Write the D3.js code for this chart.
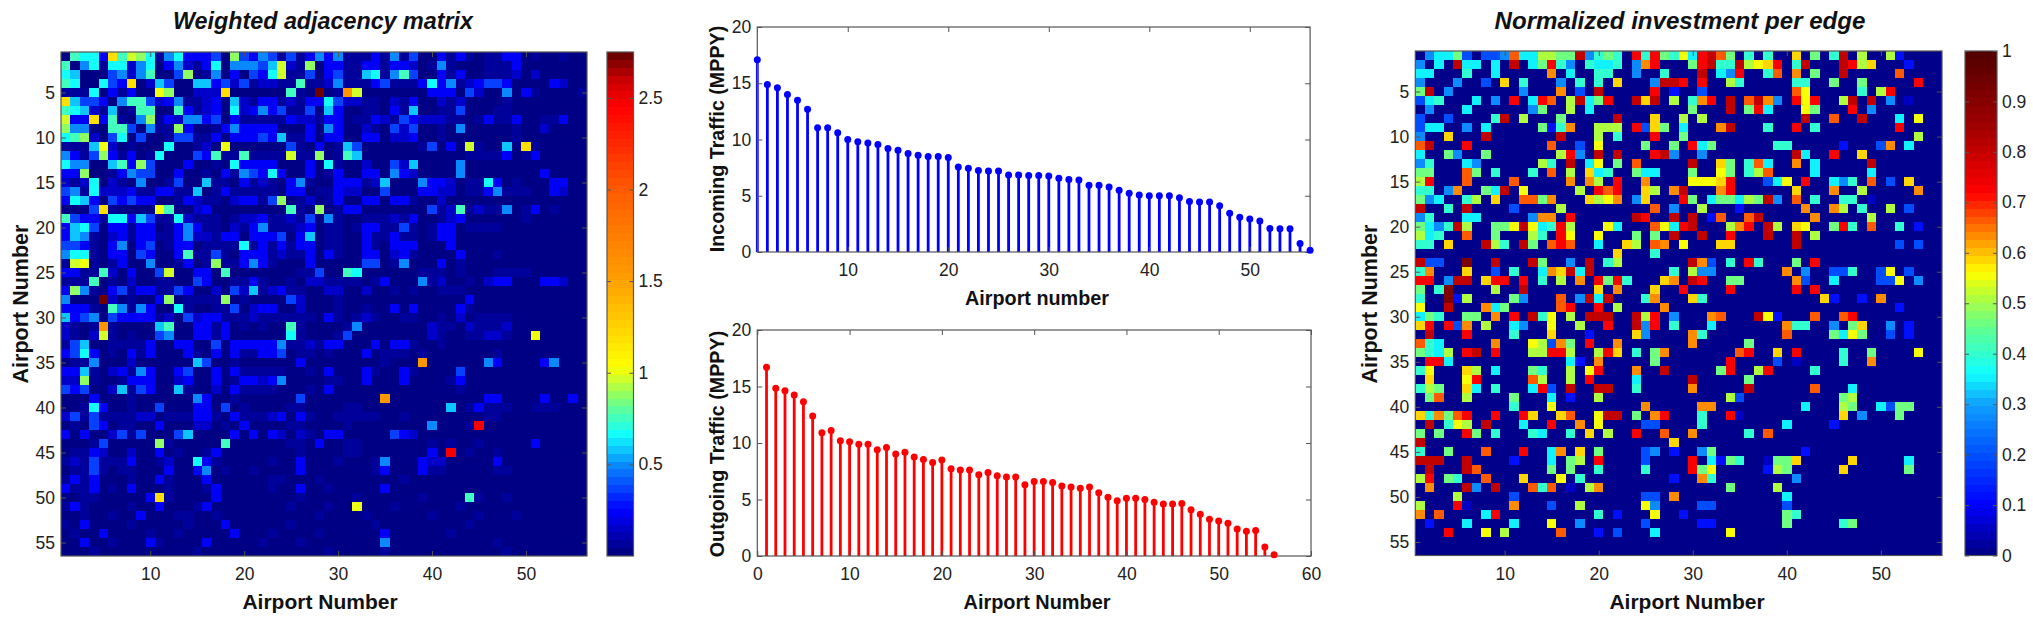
<!DOCTYPE html>
<html>
<head>
<meta charset="utf-8">
<script src="https://cdn.jsdelivr.net/npm/d3@7"></script>
<style>
  html, body { margin: 0; padding: 0; background: #fff; }
  svg { display: block; font-family: "Liberation Sans", Arial, sans-serif; }
  .tick text { fill: #222; }
</style>
</head>
<body>
<svg id="chart" width="2033" height="618"></svg>
<script>
// Adjacency matrix, one string per row, 56 cells. Spaces are only for reading.
const weightLevels = { 0: .03, 1: .06, 2: .13, 3: .25, 4: .36, 5: .48, 6: .56, 7: .66, 8: .75, 9: .86, a: .95, b: 1.03, c: 1.2, d: 1.55, e: 2.45, f: 2.75 };
const weightRows = [
  "08773c8a97 1573334094 3541413535 1113151400 3131011330 100100",
  "8057177257 0352137055 546a219033 1133133201 5100011130 000000",
  "7600045258 0049015030 437a114034 1167158400 3130011120 200000",
  "8700743c02 6400663424 1221181125 1113411137 3512344300 003200",
  "1117031300 b900222c00 0000810f01 da00000003 3304200503 100001",
  "c644305884 2351123062 1331213374 2211021300 2120000100 000000",
  "8762160188 0083123072 3534114063 0011031600 1140001100 000000",
  "a33c381059 1325534031 1111322133 0113214322 2110131130 011300",
  "9550088405 1193001353 3330003053 0021042400 1050000010 020000",
  "7892047040 0144113033 3436113033 0033022300 1000000010 000000",
  "1116b20100 0700120b00 0000410301 6400000014 030a10060c 100000",
  "5314931301 7000438118 1111a11901 8600000000 0001111301 300000",
  "7550068394 0003001073 3330003071 0020042600 0050000000 000000",
  "3390013544 0030010315 4373003013 0033053200 0050000000 030000",
  "2127021050 0140061103 1210351003 3312600053 3201173010 003300",
  "4517222311 3311601311 1110330113 2200400033 2201135111 003200",
  "3763043433 0013211023 3149012013 0033033100 2000000000 000000",
  "0004c10000 b800230000 0000810901 3300000004 1281211501 301000",
  "8433177364 1172111012 2311214051 0011121300 1230000001 000000",
  "3674033133 0135311021 3511123011 0133114101 3301111000 000000",
  "3651023133 1135221330 3334036011 0031131101 3300000000 000000",
  "4431035034 0133011117 1313133011 0031033300 0300000000 000000",
  "5771033043 0038114103 3312113031 0033023100 0030001000 000000",
  "1ab1013005 0013019113 5310003000 0044015000 3010000000 000000",
  "3311820300 4a00330800 0000011400 8700000011 1010001111 000000",
  "1118010200 1100430011 3100102211 1101300051 2001023300 033200",
  "3951034133 1143002042 6123110022 0020010100 1110000000 000000",
  "5000f20100 3901111901 0000420001 0000000000 0003000000 000000",
  "3331085153 0071001140 2330020001 0010030300 0031000000 000000",
  "6345043333 1204233111 2111111031 0121001100 1020111100 000000",
  "2101d10000 6800331301 0100810000 1500000002 1102111200 000000",
  "2102a10100 4500331300 0000710001 4000000002 1001122100 b00000",
  "1460011113 0033004033 3335112133 0003033100 1000000000 000000",
  "3473010313 0003103031 1334011010 0030111010 0000001000 000000",
  "0115000200 0000640010 0000030000 00001000d0 0000053000 035000",
  "3361023153 0034003031 1111001030 0031003100 0040000000 000000",
  "2291001333 0023003013 3235000011 0030003000 0130000000 000000",
  "4340026143 0061002031 1110001030 0000000000 0010000000 000000",
  "0003000100 0000530010 0000040000 0000d00000 0000033000 030030",
  "0017300100 4000330401 0000110000 1100000000 0601311100 111000",
  "2414111122 0111331031 1123031001 1111001000 0000011000 000000",
  "0104301100 3000220103 0000110000 1000000005 0001e00000 000000",
  "3030024140 0046000030 3032021033 0000043200 0000000000 000000",
  "0001400000 9100000800 0000110300 1100000001 0100100000 300000",
  "0113200200 3010013000 0000010000 1100000003 0e01001000 000000",
  "1214111300 1200731000 0010030001 0001500032 2000003000 000000",
  "0114101100 0300350100 1000030000 0001300031 1000001100 000000",
  "1313000100 3100030000 0011000100 0000001000 0000000000 000000",
  "3113010300 0100013000 0010030010 0000300000 0000000000 000000",
  "0011000003 c100003000 0000010000 0100000010 0008100100 000000",
  "1310000100 3000130000 0000100010 0b00010000 0010000000 000000",
  "0010010030 0011001000 0000000100 0010000001 0000100010 000000",
  "1030000100 0001000300 0000100000 0001000000 0001000000 000000",
  "0100300001 0010000030 0010000100 0000300000 0100000000 000000",
  "0030010003 1000030000 0100010000 0000500000 0000001000 000000",
  "0001000000 0000100000 0000000010 0000100000 0000000100 000000"
];

// Investment per edge, sparse: "col+level" per row, everything else is 0.
const investLevels = { a: .05, b: .12, c: .2, d: .28, e: .35, f: .4, g: .46, h: .51, i: .55, j: .59, k: .63, l: .67, m: .72, n: .8, o: .92 };
const investRows = [
  "2d 3e 4e 5g 6c 8c 9c 10d 11l 12e 13e 14h 15h 16g 17g 18n 19d 20f 21g 22f 24m 25f 26m 27g 28f 29i 30e 31m 32n 33l 34g 36f 38f 41j 43g 45f 46n 48h 51h 52b",
  "1d 3e 5n 6e 7e 9e 11n 13e 14g 15m 16f 17d 19f 20e 21e 22f 24d 25k 26m 30g 31m 32n 33f 34f 35n 36h 37i 38j 39m 41f 42n 46n 47m 48h 49j 53b",
  "1e 2e 6f 9e 15k 17e 20f 21f 24d 27f 31n 33e 34d 35m 38f 39l 41k 43g 46n 52l",
  "1d 5d 8c 10j 12f 16d 18f 20f 22j 26d 27n 28n 29m 31m 34h 35f 41f 42f 45g 48g 54m",
  "1g 2n 4d 12d 16k 18c 20n 26m 28b 31c 41l 42i 48f 50h 51m",
  "1c 2e 3f 7e 9d 11m 13e 14m 15l 17h 18n 19e 20g 21m 24n 25j 26n 28h 30f 31k 32m 34n 36l 37n 38k 39d 41m 42i 43m 46h 47n 49n 51d 53a",
  "2d 6e 13d 14g 17h 19e 30g 34n 36g 37m 38e 42i 43g 47m 49d",
  "1c 4c 9f 10n 12h 16g 22n 26j 29h 31h 42n 45l 48n 52e 54i",
  "1c 2e 3e 6d 8e 14g 15b 16f 17k 20h 21h 22h 24m 25c 26j 27g 29e 33k 34n 38f 41m 43f 52m",
  "1d 4j 8n 16n 20h 22f 26m 29g 54h",
  "1l 2n 6m 15l 18c 20i 25g 28g 30m 31e 32g 39f 40f 46b 50c 51k 53e",
  "1e 4g 5d 8g 16h 17m 18d 20n 22n 26m 27n 28d 31d 41n 42e 45m 48j",
  "1d 2f 6e 7d 14h 15f 17n 19e 20i 22g 24l 30n 33j 34g 36f 37l 38e 41k 43e 49n",
  "1g 2g 6l 7g 9f 13f 15l 17h 19j 20e 21f 24g 25e 26e 30g 33i 34g 36f 37h 38l 43e 49e",
  "1h 2m 6l 11l 17k 19k 20h 22m 25k 30i 31i 32i 33j 34m 38c 39e 40i 42m 45e 46d 47f 49l 51c 53j",
  "1f 2f 4d 5k 8g 9e 10n 12i 18h 20m 21l 22m 25j 26h 28k 29n 33k 34m 41j 45k 48h 54k",
  "1g 2d 3e 6f 7h 9j 12l 13l 14g 15k 19j 20h 21i 22k 24d 25j 29m 30g 32e 33g 34g 35e 36h 37g 38n 39d 41l 43f 46f 47f 49a",
  "1n 4f 6n 11c 16h 26l 28d 31h 35b 42k 45k 46h 48f 51h 53c",
  "1d 2f 6e 7e 13d 14k 15k 17m 24n 25m 28n 30n 32b 33l 36l 37n 43k 49h",
  "1g 2e 3d 4f 5n 6h 9g 10g 11i 12n 13i 14e 15f 16m 17h 21i 22e 26l 27i 28e 29m 30n 34h 35k 36m 38n 39h 41j 42i 45g 46m 47f 49l 52f 54b",
  "1h 2e 3f 6l 9g 13h 14f 16m 17i 20i 24g 26g 28n 31n 34m 38n 41n 43h",
  "1f 2f 4j 8n 9h 10f 12n 13g 15l 16m 17l 20e 23j 24h 26l 27k 29i 33j 34j 41n 52c 54c",
  "22j 26f",
  "1n 2c 3c 6o 9n 13n 14g 17d 19n 21f 22h 30n 31k 32c 34f 36m 37f 41g 43m",
  "1f 2k 6j 9c 11f 14e 15k 16j 17n 18e 19n 28f 30h 31d 32d 40k 42d 45c 46c 47f 50c 51i 53c",
  "1m 2m 4d 5n 6n 8j 9m 10m 12m 14f 16h 18k 20m 21g 22m 23f 27j 28k 30n 31m 34g 35g 41k 42c 45e 50c 51c 52i 54d",
  "1g 3f 4o 9h 12n 20j 22k 26j 29m 34m 41m 43m",
  "1f 4o 5b 6h 11g 12d 16l 18d 19n 20e 21n 25f 26k 30j 31f 44j 45b 48b 50k",
  "1i 4n 8k 9e 10g 16l 17m 20m 22h 27k 52b",
  "1e 2g 3f 6g 7g 9k 11m 13n 14f 15i 17h 19n 20n 21n 24n 25h 26m 28d 32k 33l 37n 38i 39b 43l 46l 47m",
  "1j 2m 4m 5c 6k 8h 11e 12d 15i 18h 21m 24n 25d 26m 28f 32e 40k 41f 42f 45d 47g 48j 51d 53b",
  "2n 6m 11f 15j 19b 24j 25d 30k 31f 40l 45g 46e 47i 48g 51c 53b",
  "1l 2f 3e 9k 13i 14h 15c 16k 17g 19m 22k 30k 36g",
  "1g 2f 3e 4h 6m 7n 9m 13h 14h 15m 16m 17h 20h 21m 22j 24f 26g 27k 35l 36m 39j 41m 46f 49g 54i",
  "2m 3m 4e 17e 18b 20k 26g 34m 39c 41a 46f 49k",
  "1f 2i 6j 7h 9e 13g 14f 17h 19i 20m 24k 27n 33g 34m 37h 38m 43f",
  "2j 6i 7m 13l 14h 17h 19m 24e 30n 36g",
  "1f 2h 3g 6j 7e 9f 13e 14m 15c 17n 20n 21n 24f 30k 36n 43l 47e",
  "2g 3l 6h 11g 15e 17b 20h 34h 35c 46g 47h",
  "11f 15i 25k 31k 32k 42e 46h 47g 50e 51c 52g 53g",
  "1j 2f 3k 4g 5l 6m 9m 12m 13j 16j 17l 20i 21n 22n 24g 26k 27m 31f 34m 35a 46j 48d 52g",
  "2n 4f 5i 6h 8n 12e 15m 18k 20i 25c 26c 31f 40e 45b",
  "1g 3g 6m 7g 9f 13f 14e 17f 19j 21h 24m 27l 30k 36f 38l",
  "1n 28j",
  "1f 4g 8l 12m 15e 16k 18j 20g 25c 26d 28b 31d 32g 42b",
  "1n 2n 3n 6n 11b 15e 17g 18h 20m 25c 30m 32e 33b 34g 35f 38a 39g 40g 41j 47j 53e",
  "2n 6n 7l 15g 17g 20f 25f 30m 31g 32i 38b 39h 40g 46j 53g",
  "1h 2m 4g 5f 8l 12j 16i 18f 28b 31k 32f 41d",
  "2k 6n 7d 9n 13l 14f 15l 17a 19h 20k 34g 39h",
  "5h 11c 25c 26c 28k 40e",
  "1h 5m 6a 11k 15c 18h 25i 26d 31c 32c 40c",
  "1k 3l 8e 9m 20f 22b 26i 29b 40g 41f",
  "2b 6e 11e 15i 18d 25c 31b 32b 40g 46f 47g",
  "4m 8i 10h 16l 20b 22c 26e 34i",
  "",
  ""
];

const incomingTraffic = [17.1, 14.9, 14.6, 14.0, 13.5, 12.7, 11.05, 11.05, 10.6, 10.0, 9.8, 9.7, 9.55, 9.2, 9.05, 8.75, 8.6, 8.5, 8.5, 8.4, 7.55, 7.45, 7.25, 7.2, 7.2, 6.85, 6.85, 6.8, 6.8, 6.75, 6.55, 6.45, 6.4, 5.93, 5.93, 5.78, 5.48, 5.22, 5.07, 5.0, 5.0, 5.0, 4.83, 4.5, 4.44, 4.44, 4.12, 3.44, 3.08, 2.93, 2.75, 2.1, 2.07, 2.07, 0.75, 0.15];
const outgoingTraffic = [16.7, 14.84, 14.63, 14.25, 13.65, 12.4, 10.9, 11.1, 10.2, 10.1, 9.88, 9.88, 9.4, 9.6, 9.03, 9.18, 8.76, 8.55, 8.28, 8.5, 7.72, 7.6, 7.6, 7.2, 7.4, 7.1, 7.0, 7.0, 6.3, 6.6, 6.6, 6.5, 6.2, 6.1, 6.0, 6.1, 5.6, 5.2, 4.9, 5.1, 5.1, 5.0, 4.75, 4.6, 4.6, 4.65, 4.1, 3.7, 3.25, 3.1, 2.9, 2.4, 2.2, 2.25, 0.8, 0.1];

const matrixXTicks = [10, 20, 30, 40, 50];
const matrixYTicks = [5, 10, 15, 20, 25, 30, 35, 40, 45, 50, 55];
const weightBarTicks = [0.5, 1, 1.5, 2, 2.5];
const investBarTicks = [0, 0.1, 0.2, 0.3, 0.4, 0.5, 0.6, 0.7, 0.8, 0.9, 1];
const trafficYTicks = [0, 5, 10, 15, 20];
const incomingXTicks = [10, 20, 30, 40, 50];
const outgoingXTicks = [0, 10, 20, 30, 40, 50, 60];

const weightMatrix = weightRows.map(r => {
  const s = r.replace(/ /g, "").padEnd(56, "0").slice(0, 56);
  return Array.from(s, c => weightLevels[c]);
});
const investMatrix = investRows.map(r => {
  const row = new Array(56).fill(0);
  r.split(" ").filter(Boolean).forEach(t => {
    row[parseInt(t) - 1] = investLevels[t.slice(-1)];
  });
  return row;
});

const AXIS = "#555";
const svg = d3.select("#chart");

// jet-like maps, 64 flat bands as in the originals
function bandedColor(stops, domainMax) {
  const ramp = d3.scaleLinear()
    .domain(stops.map(s => s[0]))
    .range(stops.map(s => s[1]))
    .interpolate(d3.interpolateRgb)
    .clamp(true);
  return v => {
    const band = Math.min(63, Math.floor(v / domainMax * 64));
    return ramp((band + 0.5) / 64 * domainMax);
  };
}
const weightColor = bandedColor([
  [0, "#000078"], [.25, "#0000ff"], [.5, "#0a8cff"], [.66, "#10ffff"], [.86, "#80ff70"],
  [1.03, "#ffff00"], [1.5, "#ffa000"], [2.0, "#ff5a00"], [2.45, "#ff0000"], [2.6, "#c80000"], [2.75, "#600000"]
], 2.75);
const investColor = bandedColor([
  [0, "#000080"], [.1, "#0000ff"], [.2, "#0050ff"], [.3, "#10a0ff"], [.36, "#10ffff"], [.45, "#60ff90"],
  [.52, "#c0ff30"], [.56, "#ffff00"], [.62, "#ffa000"], [.67, "#ff5000"], [.72, "#ff0000"], [.85, "#a00000"], [1, "#500000"]
], 1);

function styleAxis(g, fontSize) {
  g.select(".domain").remove();
  g.selectAll("line").attr("stroke", AXIS).attr("stroke-width", 1);
  g.selectAll("text").attr("font-size", fontSize);
}

// MATLAB style box: inward ticks on all four sides
function boxAxes(g, x, y, w, h, xTicks, yTicks, fontSize, yFormat) {
  const tick = 5;
  const bottom = g.append("g").attr("transform", `translate(0,${h})`)
    .call(d3.axisBottom(x).tickValues(xTicks).tickFormat(d3.format("d")).tickSizeInner(-tick).tickSizeOuter(0).tickPadding(12));
  styleAxis(bottom, fontSize);
  const left = g.append("g")
    .call(d3.axisLeft(y).tickValues(yTicks).tickFormat(yFormat || d3.format("d")).tickSizeInner(-tick).tickSizeOuter(0).tickPadding(6));
  styleAxis(left, fontSize);
  const top = g.append("g").call(d3.axisTop(x).tickValues(xTicks).tickFormat("").tickSizeInner(-tick).tickSizeOuter(0));
  styleAxis(top, fontSize);
  const right = g.append("g").attr("transform", `translate(${w},0)`)
    .call(d3.axisRight(y).tickValues(yTicks).tickFormat("").tickSizeInner(-tick).tickSizeOuter(0));
  styleAxis(right, fontSize);
  g.append("rect").attr("width", w).attr("height", h)
    .attr("fill", "none").attr("stroke", AXIS).attr("stroke-width", 1.2);
}

function boldLabel(text, x, y, size, rotate) {
  const t = svg.append("text").text(text)
    .attr("text-anchor", "middle").attr("font-weight", "bold").attr("font-size", size).attr("fill", "#111");
  t.attr("transform", rotate ? `translate(${x},${y}) rotate(-90)` : `translate(${x},${y})`);
  return t;
}

function drawMatrix({ left, top, width, height, matrix, color }) {
  const g = svg.append("g").attr("transform", `translate(${left},${top})`);
  const x = d3.scaleLinear().domain([0.5, 56.5]).range([0, width]);
  const y = d3.scaleLinear().domain([0.5, 56.5]).range([0, height]);
  const cells = matrix.flatMap((row, r) => row.map((v, c) => ({ r: r + 1, c: c + 1, v })));
  g.selectAll("rect.cell").data(cells).join("rect")
    .attr("class", "cell")
    .attr("shape-rendering", "crispEdges")
    .attr("x", d => x(d.c - 0.5))
    .attr("y", d => y(d.r - 0.5))
    .attr("width", x(1.5) - x(0.5))
    .attr("height", y(1.5) - y(0.5))
    .attr("fill", d => color(d.v));
  boxAxes(g, x, y, width, height, matrixXTicks, matrixYTicks, 17.5);
}

function drawColorbar({ left, top, width, height, domainMax, ticks, color, format }) {
  const g = svg.append("g").attr("transform", `translate(${left},${top})`);
  const y = d3.scaleLinear().domain([0, domainMax]).range([height, 0]);
  const bands = d3.range(64).map(i => (i + 0.5) / 64 * domainMax);
  g.selectAll("rect.band").data(bands).join("rect")
    .attr("class", "band")
    .attr("shape-rendering", "crispEdges")
    .attr("x", 0)
    .attr("width", width)
    .attr("y", d => y(d + domainMax / 128))
    .attr("height", height / 64)
    .attr("fill", d => color(d));
  const axis = g.append("g").attr("transform", `translate(${width},0)`)
    .call(d3.axisRight(y).tickValues(ticks).tickFormat(format).tickSizeInner(-4).tickSizeOuter(0).tickPadding(5));
  styleAxis(axis, 17.5);
  const leftTicks = g.append("g")
    .call(d3.axisLeft(y).tickValues(ticks).tickFormat("").tickSizeInner(-4).tickSizeOuter(0));
  styleAxis(leftTicks, 17.5);
  g.append("rect").attr("width", width).attr("height", height)
    .attr("fill", "none").attr("stroke", AXIS).attr("stroke-width", 1.2);
}

function drawStem({ left, top, width, height, xDomain, xTicks, values, color }) {
  const g = svg.append("g").attr("transform", `translate(${left},${top})`);
  const x = d3.scaleLinear().domain(xDomain).range([0, width]);
  const y = d3.scaleLinear().domain([0, 20]).range([height, 0]);
  const pts = values.map((v, i) => ({ n: i + 1, v }));
  g.selectAll("line.stem").data(pts).join("line")
    .attr("class", "stem")
    .attr("x1", d => x(d.n)).attr("x2", d => x(d.n))
    .attr("y1", y(0)).attr("y2", d => y(d.v))
    .attr("stroke", color).attr("stroke-width", 2.8);
  boxAxes(g, x, y, width, height, xTicks, trafficYTicks, 17.5);
  g.selectAll("circle.head").data(pts).join("circle")
    .attr("class", "head")
    .attr("cx", d => x(d.n)).attr("cy", d => y(d.v))
    .attr("r", 3.5).attr("fill", color);
}

// left panel
drawMatrix({ left: 61, top: 52, width: 526, height: 504, matrix: weightMatrix, color: weightColor });
drawColorbar({ left: 607, top: 52, width: 26.5, height: 504, domainMax: 2.75, ticks: weightBarTicks, color: weightColor, format: d3.format("") });
boldLabel("Weighted adjacency matrix", 323, 29, 23.3, false).attr("font-style", "italic");
boldLabel("Airport Number", 320, 609, 21, false);
boldLabel("Airport Number", 28, 304, 21.5, true);

// middle panels
drawStem({ left: 757.3, top: 27, width: 552.8, height: 225, xDomain: [1, 56], xTicks: incomingXTicks, values: incomingTraffic, color: "#0000ff" });
drawStem({ left: 757.3, top: 330, width: 553.7, height: 226, xDomain: [0, 60], xTicks: outgoingXTicks, values: outgoingTraffic, color: "#ff0000" });
boldLabel("Incoming Traffic (MPPY)", 724, 139, 19.7, true);
boldLabel("Airport number", 1037, 305, 19.8, false);
boldLabel("Outgoing Traffic (MPPY)", 724, 444, 19.7, true);
boldLabel("Airport Number", 1037, 609, 19.9, false);

// right panel
drawMatrix({ left: 1415.3, top: 51, width: 526.7, height: 504.5, matrix: investMatrix, color: investColor });
drawColorbar({ left: 1965, top: 51, width: 32, height: 504.5, domainMax: 1, ticks: investBarTicks, color: investColor, format: d3.format("") });
boldLabel("Normalized investment per edge", 1680, 29, 24.1, false).attr("font-style", "italic");
boldLabel("Airport Number", 1687, 609, 21, false);
boldLabel("Airport Number", 1377, 304, 21.5, true);
</script>
</body>
</html>
